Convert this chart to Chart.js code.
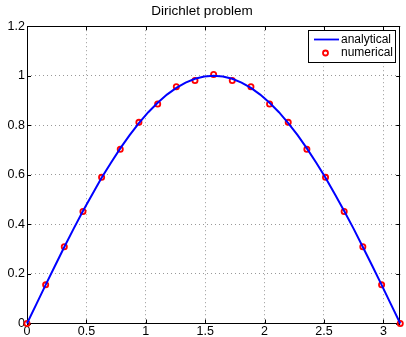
<!DOCTYPE html>
<html>
<head>
<meta charset="utf-8">
<script src="https://cdn.jsdelivr.net/npm/chart.js@4/dist/chart.umd.min.js"></script>
<style>
  html, body { margin: 0; padding: 0; background: #fff; }
  #wrap { width: 406px; height: 337px; }
</style>
</head>
<body>
<div id="wrap"><canvas id="c"></canvas></div>
<script>
// Data
const xTicks = [0, 0.5, 1, 1.5, 2, 2.5, 3];
const yTicks = [0, 0.2, 0.4, 0.6, 0.8, 1, 1.2];

// analytical curve, sampled every pi/40
const analyticX = [0, 0.079, 0.157, 0.236, 0.314, 0.393, 0.471, 0.550, 0.628, 0.707,
  0.785, 0.864, 0.942, 1.021, 1.100, 1.178, 1.257, 1.335, 1.414, 1.492,
  1.571, 1.649, 1.728, 1.806, 1.885, 1.963, 2.042, 2.121, 2.199, 2.278,
  2.356, 2.435, 2.513, 2.592, 2.670, 2.749, 2.827, 2.906, 2.985, 3.063, 3.142];
const analyticY = [0, 0.078, 0.156, 0.233, 0.309, 0.383, 0.454, 0.522, 0.588, 0.649,
  0.707, 0.760, 0.809, 0.853, 0.891, 0.924, 0.951, 0.972, 0.988, 0.997,
  1.000, 0.997, 0.988, 0.972, 0.951, 0.924, 0.891, 0.853, 0.809, 0.760,
  0.707, 0.649, 0.588, 0.522, 0.454, 0.383, 0.309, 0.233, 0.156, 0.078, 0];

// numerical solution, 21 nodes
const numericX = [0, 0.157, 0.314, 0.471, 0.628, 0.785, 0.942, 1.100, 1.257, 1.414,
  1.571, 1.728, 1.885, 2.042, 2.199, 2.356, 2.513, 2.670, 2.827, 2.985, 3.142];
const numericY = [0, 0.156, 0.310, 0.452, 0.590, 0.703, 0.812, 0.886, 0.956, 0.981,
  1.005, 0.981, 0.956, 0.886, 0.812, 0.703, 0.590, 0.452, 0.310, 0.156, 0];

const FONT = "'Liberation Sans', Arial, Helvetica, sans-serif";

// box, inward tick marks and legend, matlab style
const boxPlugin = {
  id: 'box',
  beforeDatasetsDraw(chart) {
    const { ctx, chartArea: a, scales } = chart;
    ctx.save();
    ctx.strokeStyle = '#000';
    ctx.lineWidth = 1;
    ctx.beginPath();
    xTicks.forEach(v => {
      const px = Math.round(scales.x.getPixelForValue(v)) + 0.5;
      ctx.moveTo(px, a.bottom); ctx.lineTo(px, a.bottom - 4);
      ctx.moveTo(px, a.top); ctx.lineTo(px, a.top + 4);
    });
    yTicks.forEach(v => {
      const py = Math.round(scales.y.getPixelForValue(v)) + 0.5;
      ctx.moveTo(a.left, py); ctx.lineTo(a.left + 4, py);
      ctx.moveTo(a.right, py); ctx.lineTo(a.right - 4, py);
    });
    ctx.stroke();
    ctx.strokeRect(Math.round(a.left) + 0.5, Math.round(a.top) + 0.5,
      Math.round(a.right - a.left) - 1, Math.round(a.bottom - a.top));
    ctx.restore();
  },
  afterDraw(chart) {
    const { ctx, chartArea: a } = chart;
    const w = 87, h = 32;
    const x0 = Math.round(a.right) - w - 5, y0 = Math.round(a.top) + 4;
    ctx.save();
    ctx.fillStyle = '#fff';
    ctx.fillRect(x0, y0, w, h);
    ctx.strokeStyle = '#000';
    ctx.lineWidth = 1;
    ctx.strokeRect(x0 + 0.5, y0 + 0.5, w, h);
    ctx.strokeStyle = '#0000ff';
    ctx.lineWidth = 1.8;
    ctx.beginPath();
    ctx.moveTo(x0 + 6, y0 + 9.5); ctx.lineTo(x0 + 31, y0 + 9.5);
    ctx.stroke();
    ctx.strokeStyle = '#ff0000';
    ctx.lineWidth = 1.8;
    ctx.beginPath();
    ctx.arc(x0 + 17.5, y0 + 23, 2.5, 0, Math.PI * 2);
    ctx.stroke();
    ctx.fillStyle = '#000';
    ctx.font = '12px ' + FONT;
    ctx.textBaseline = 'middle';
    ctx.fillText('analytical', x0 + 33, y0 + 10);
    ctx.fillText('numerical', x0 + 33, y0 + 23);
    ctx.restore();
  }
};

new Chart(document.getElementById('c'), {
  type: 'scatter',
  data: {
    datasets: [{
      label: 'analytical',
      data: analyticX.map((x, i) => ({ x, y: analyticY[i] })),
      showLine: true,
      borderColor: '#0000ff',
      borderWidth: 2,
      pointRadius: 0,
      tension: 0,
      clip: false
    }, {
      label: 'numerical',
      data: numericX.map((x, i) => ({ x, y: numericY[i] })),
      showLine: false,
      pointStyle: 'circle',
      pointRadius: 2.6,
      pointBorderWidth: 1.8,
      pointBorderColor: '#ff0000',
      pointBackgroundColor: 'rgba(0,0,0,0)',
      clip: false
    }]
  },
  options: {
    responsive: true,
    maintainAspectRatio: false,
    animation: false,
    layout: { padding: { left: 0, right: 2, top: 0, bottom: 0 } },
    plugins: {
      legend: { display: false },
      tooltip: { enabled: false },
      title: {
        display: true,
        text: 'Dirichlet problem',
        color: '#000',
        font: { family: FONT, size: 13.5, weight: 'normal' },
        padding: { top: 3, bottom: 7 }
      }
    },
    scales: {
      x: {
        type: 'linear',
        min: 0,
        max: Math.PI,
        afterBuildTicks: s => { s.ticks = xTicks.map(v => ({ value: v })); },
        afterFit: s => { s.height = 13.5; },
        grid: { color: '#999', drawTicks: false },
        border: { display: false, dash: [1, 3] },
        ticks: {
          color: '#000',
          padding: 1,
          maxRotation: 0,
          font: { family: FONT, size: 12.5 },
          callback: v => String(v)
        }
      },
      y: {
        min: 0,
        max: 1.2,
        afterBuildTicks: s => { s.ticks = yTicks.map(v => ({ value: v })); },
        afterFit: s => { s.width = 27; },
        grid: { color: '#999', drawTicks: false },
        border: { display: false, dash: [1, 3] },
        ticks: {
          color: '#000',
          padding: 2,
          font: { family: FONT, size: 12.5 },
          callback: v => String(Math.round(v * 10) / 10)
        }
      }
    }
  },
  plugins: [boxPlugin]
});
</script>
</body>
</html>
